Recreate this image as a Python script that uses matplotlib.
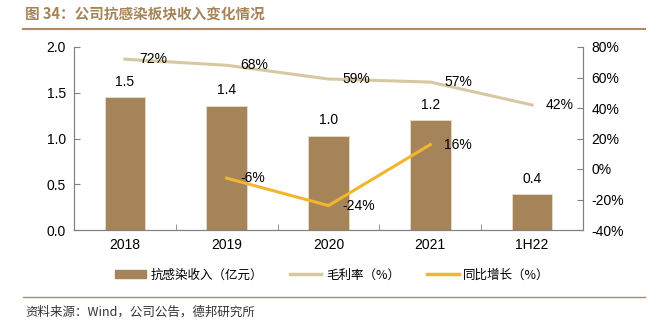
import matplotlib
matplotlib.use("Agg")
import matplotlib.pyplot as plt
from matplotlib.lines import Line2D
from matplotlib.patches import Patch
import numpy as np

plt.rcParams['font.family'] = ['Liberation Sans', 'Noto Sans CJK SC', 'DejaVu Sans']

categories = ['2018', '2019', '2020', '2021', '1H22']
revenue = [1.45, 1.36, 1.03, 1.20, 0.39]
revenue_labels = ['1.5', '1.4', '1.0', '1.2', '0.4']
gross_margin = [72, 68, 59, 57, 42]
growth_idx = [1, 2, 3]
growth = [-6, -24, 16]

BAR_C = '#A6845A'
GM_C = '#D8C8A2'
GR_C = '#F2B52E'
TITLE_C = '#A6845A'
AXIS_C = '#808080'

fig = plt.figure(figsize=(6.53, 3.29), dpi=100)
ax = fig.add_axes([74/653, 1-230/329, (583-74)/653, (230-47)/329])
ax2 = ax.twinx()

x = np.arange(len(categories))
bars = ax.bar(x, revenue, width=0.4, color=BAR_C, edgecolor='#E8DCC8', linewidth=0.6, zorder=2)
for xi, v, lab in zip(x, revenue, revenue_labels):
    ax.annotate(lab, (xi, v), xytext=(0, 6), textcoords='offset points',
                ha='center', va='bottom', fontsize=10)

ax.set_xlim(-0.5, 4.5)
ax.set_ylim(0, 2.0)
ax.set_yticks([0, 0.5, 1.0, 1.5, 2.0])
ax.set_yticklabels(['0.0', '0.5', '1.0', '1.5', '2.0'])
ax.set_xticks(x)
ax.set_xticklabels(categories)
ax.set_xticks(np.arange(-0.5, 4.6, 1.0), minor=True)
ax.tick_params(axis='x', which='major', length=0, labelsize=10, pad=6)
ax.tick_params(axis='x', which='minor', length=4, direction='in', color=AXIS_C)
ax.tick_params(axis='y', length=4, direction='in', color=AXIS_C, labelsize=10, pad=6)

ax2.set_ylim(-40, 80)
ax2.set_yticks([-40, -20, 0, 20, 40, 60, 80])
ax2.set_yticklabels([f'{t}%' for t in [-40, -20, 0, 20, 40, 60, 80]])
ax2.tick_params(axis='y', length=4, direction='in', color=AXIS_C, labelsize=10, pad=6)

ax2.plot(x, gross_margin, color=GM_C, linewidth=2.2, zorder=3)
gx = [x[i] for i in growth_idx]
ax2.plot(gx, growth, color=GR_C, linewidth=2.2, zorder=3)
for xi, v in zip(x, gross_margin):
    ax2.annotate(f'{v}%', (xi, v), xytext=(10, 0), textcoords='offset points',
                 ha='left', va='center', fontsize=10)
for xi, v in zip(gx, growth):
    ax2.annotate(f'{v}%', (xi, v), xytext=(10, 0), textcoords='offset points',
                 ha='left', va='center', fontsize=10)

for a in (ax, ax2):
    a.spines['top'].set_visible(False)
    for s in ('left', 'right', 'bottom'):
        a.spines[s].set_color(AXIS_C)
        a.spines[s].set_linewidth(0.8)

handles = [Patch(facecolor=BAR_C, edgecolor=BAR_C),
           Line2D([0], [0], color=GM_C, linewidth=2.5),
           Line2D([0], [0], color=GR_C, linewidth=2.5)]
labels = ['抗感染收入（亿元）', '毛利率（%）', '同比增长（%）']
fig.legend(handles, labels, loc='center', bbox_to_anchor=(332/653, 1-275/329), ncol=3,
           frameon=False, handlelength=2.5, handleheight=0.55,
           columnspacing=2.2, handletextpad=0.35,
           prop={'family': ['Noto Sans CJK SC'], 'size': 9})

fig.text(25/653, 1-14/329, '图 34：公司抗感染板块收入变化情况', fontsize=10.5, fontweight='bold',
         color=TITLE_C, ha='left', va='center', family=['Noto Sans CJK SC'])
fig.add_artist(Line2D([23/653, 645/653], [1-29/329, 1-29/329], color='#B08A64', linewidth=1.5))
fig.add_artist(Line2D([23/653, 645/653], [1-297/329, 1-297/329], color='#B08A64', linewidth=1.0))
fig.text(25/653, 1-312/329, '资料来源：Wind，公司公告，德邦研究所', fontsize=9,
         color='#333333', ha='left', va='center', family=['Noto Sans CJK SC', 'Liberation Sans'])

fig.savefig('out.png', dpi=100)
